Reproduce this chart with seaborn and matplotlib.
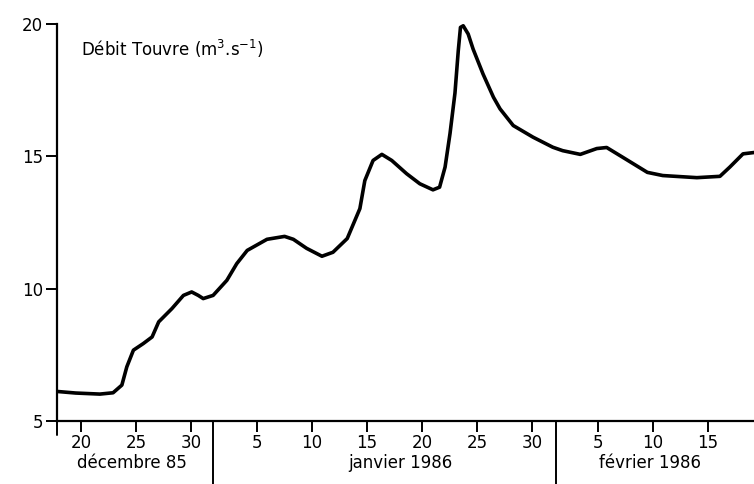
import matplotlib
matplotlib.use('Agg')
import matplotlib.pyplot as plt
import matplotlib.transforms as mtransforms
import seaborn as sns

# day number counted from 31 Dec 1985 (= 0): Jan 5 = 5, Feb 5 = 36
days = [-13.2, -11.5, -9.3, -8.1, -7.3, -6.85, -6.25, -5.35, -4.55, -3.95, -2.75,
        -1.7, -0.95, -0.35, 0.1, 1.0, 2.25, 3.15, 4.1, 5.9, 7.5, 8.3, 9.5, 10.9,
        11.9, 13.2, 14.35, 14.8, 15.55, 16.35, 17.25, 18.6, 19.8, 21.0, 21.6,
        22.1, 22.55, 23.0, 23.3, 23.5, 23.75, 24.2, 24.65, 25.55, 26.5, 27.1,
        28.3, 30.1, 31.9, 32.8, 34.4, 35.9, 36.8, 38.3, 40.5, 41.9, 45.0, 47.1,
        48.0, 49.2, 50.2]
debit = [6.12, 6.06, 6.02, 6.07, 6.36, 7.05, 7.68, 7.93, 8.18, 8.75, 9.25,
         9.75, 9.88, 9.75, 9.63, 9.75, 10.32, 10.95, 11.45, 11.87, 11.98, 11.87,
         11.53, 11.23, 11.38, 11.90, 13.03, 14.09, 14.85, 15.08, 14.85, 14.35,
         13.97, 13.74, 13.84, 14.60, 15.87, 17.40, 19.00, 19.88, 19.94, 19.63,
         19.06, 18.12, 17.24, 16.80, 16.17, 15.73, 15.35, 15.22, 15.08, 15.30,
         15.34, 14.96, 14.40, 14.28, 14.20, 14.25, 14.60, 15.10, 15.15]

tick_days = [-11, -6, -1, 5, 10, 15, 20, 25, 30, 36, 41, 46]
tick_labels = ['20', '25', '30', '5', '10', '15', '20', '25', '30', '5', '10', '15']
month_names = ['décembre 85', 'janvier 1986', 'février 1986']
month_centers = [-6.4, 18.0, 40.7]
month_breaks = [1.0, 32.2]
y_ticks = [5, 10, 15, 20]

sns.set_style('ticks')
plt.rcParams['font.family'] = ['DejaVu Sans']
plt.rcParams['text.color'] = 'black'
plt.rcParams['xtick.color'] = 'black'
plt.rcParams['ytick.color'] = 'black'

fig = plt.figure(figsize=(7.54, 4.84), dpi=100)
ax = fig.add_axes([0.0756, 0.130, 0.9244, 0.820])

sns.lineplot(x=days, y=debit, ax=ax, color='black', linewidth=2.6)
ax.lines[0].set_solid_joinstyle('round')

ax.set_xlim(-13.2, 50.2)
ax.set_ylim(5, 20)
ax.set_yticks(y_ticks)
ax.set_yticklabels([str(v) for v in y_ticks], fontsize=12)
ax.set_xticks(tick_days)
ax.set_xticklabels(tick_labels, fontsize=12)
ax.tick_params(axis='both', direction='out', length=8, width=1.4,
               color='black', labelcolor='black', pad=2)
ax.tick_params(axis='x', pad=1)
sns.despine(ax=ax)
for side in ['left', 'bottom']:
    ax.spines[side].set_linewidth(1.6)
    ax.spines[side].set_color('black')

trans = mtransforms.blended_transform_factory(ax.transData, ax.transAxes)
for xb in month_breaks:
    ax.plot([xb, xb], [0, -0.16], transform=trans, color='black', lw=1.4, clip_on=False)
ax.plot([-13.2, -13.2], [0, -0.035], transform=trans, color='black', lw=1.4, clip_on=False)
for name, xc in zip(month_names, month_centers):
    ax.text(xc, -0.105, name, transform=trans, ha='center', va='center',
            fontsize=12, color='black')

ax.text(0.035, 0.965, r'Débit Touvre (m$^{3}$.s$^{-1}$)', transform=ax.transAxes,
        ha='left', va='top', fontsize=12, color='black')

ax.set_xlabel('')
ax.set_ylabel('')
fig.savefig('out.png', dpi=100)
